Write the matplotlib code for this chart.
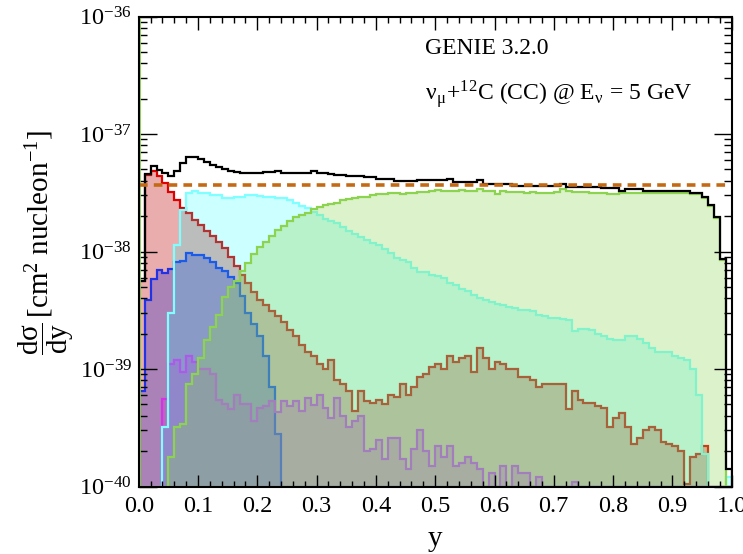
import numpy as np
import matplotlib.pyplot as plt
from matplotlib.ticker import (LogLocator, MultipleLocator, FixedLocator,
                               FormatStrFormatter, NullFormatter, LogFormatterMathtext)

plt.rcParams['font.family'] = ['Liberation Serif', 'DejaVu Serif']
plt.rcParams['mathtext.fontset'] = 'stix'

# 100 bins in y from 0 to 1, cross sections in units of 1e-38 cm^2/nucleon
edges = np.linspace(0.0, 1.0, 101)
unit = 1e-38

total = np.array([
    0.56, 4.57, 5.34, 4.94, 4.66, 4.39, 4.84, 5.66, 6.37, 6.37,
    6.13, 5.78, 5.45, 5.24, 5.04, 4.84, 4.75, 4.66, 4.66, 4.66,
    4.66, 4.75, 4.75, 4.84, 4.66, 4.66, 4.66, 4.66, 4.66, 4.84,
    4.66, 4.66, 4.57, 4.48, 4.48, 4.39, 4.39, 4.39, 4.31, 4.31,
    4.14, 4.14, 4.14, 3.98, 3.98, 3.98, 3.98, 4.06, 4.06, 4.06,
    4.06, 4.06, 4.14, 3.90, 3.90, 3.90, 3.90, 4.06, 3.75, 3.75,
    3.75, 3.75, 3.75, 3.61, 3.61, 3.61, 3.61, 3.61, 3.61, 3.61,
    3.61, 3.75, 3.54, 3.54, 3.54, 3.54, 3.54, 3.54, 3.47, 3.47,
    3.47, 3.27, 3.40, 3.40, 3.40, 3.27, 3.27, 3.27, 3.27, 3.27,
    3.27, 3.27, 3.27, 3.15, 3.15, 2.90, 2.50, 1.97, 0.86, 0.014]) * unit

red = np.array([
    0.56, 4.48, 4.84, 4.39, 3.83, 3.21, 2.74, 2.35, 2.13, 1.86,
    1.68, 1.49, 1.35, 1.20, 1.07, 0.89, 0.75, 0.63, 0.54, 0.45,
    0.385, 0.35, 0.31, 0.285, 0.25, 0.215, 0.19, 0.16, 0.14, 0.13,
    0.11, 0.10, 0.12, 0.08, 0.075, 0.065, 0.044, 0.065, 0.053, 0.051,
    0.055, 0.05, 0.06, 0.058, 0.075, 0.06, 0.07, 0.085, 0.09, 0.105,
    0.11, 0.10, 0.13, 0.115, 0.125, 0.13, 0.095, 0.15, 0.125, 0.10,
    0.115, 0.11, 0.10, 0.10, 0.085, 0.085, 0.08, 0.07, 0.075, 0.075,
    0.075, 0.075, 0.046, 0.065, 0.055, 0.051, 0.051, 0.048, 0.047, 0.032,
    0.038, 0.042, 0.032, 0.023, 0.026, 0.03, 0.032, 0.03, 0.024, 0.023,
    0.022, 0.02, 0.0105, 0.018, 0.019, 0.022, 0, 0, 0, 0]) * unit

blue = np.array([
    0.065, 0.385, 0.58, 0.70, 0.66, 0.71, 0.81, 0.83, 0.97, 0.93,
    0.93, 0.88, 0.81, 0.72, 0.68, 0.61, 0.54, 0.42, 0.30, 0.24,
    0.19, 0.13, 0.07, 0.028] + [0] * 76) * unit

magenta = np.array([
    0, 0, 0, 0, 0.056, 0.11, 0.12, 0.095, 0.13, 0.115,
    0.10, 0.10, 0.09, 0.055, 0.05, 0.046, 0.06, 0.05, 0.05, 0.036,
    0.047, 0.048, 0.053, 0.043, 0.053, 0.048, 0.053, 0.044, 0.057, 0.049,
    0.06, 0.047, 0.038, 0.057, 0.04, 0.032, 0.036, 0.04, 0.02, 0.021,
    0.025, 0.017, 0.026, 0.026, 0.017, 0.014, 0.021, 0.03, 0.02, 0.015,
    0.022, 0.018, 0.022, 0.015, 0.016, 0.018, 0.016, 0.014, 0, 0.013,
    0, 0.015, 0, 0.015, 0.013, 0.013, 0, 0.012, 0, 0,
    0, 0, 0, 0.011] + [0] * 26) * unit

cyan = np.array([
    0, 0, 0, 0, 0.032, 0.30, 1.13, 2.26, 3.15, 3.27,
    3.15, 3.15, 3.03, 3.03, 2.85, 2.85, 2.91, 2.91, 3.03, 3.03,
    2.97, 2.91, 2.91, 2.85, 2.85, 2.74, 2.59, 2.44, 2.35, 2.17,
    2.05, 1.89, 1.82, 1.75, 1.62, 1.49, 1.41, 1.32, 1.25, 1.18,
    1.13, 1.05, 0.97, 0.88, 0.84, 0.81, 0.73, 0.67, 0.67, 0.63,
    0.62, 0.60, 0.54, 0.52, 0.48, 0.46, 0.43, 0.40, 0.39, 0.37,
    0.36, 0.35, 0.335, 0.33, 0.32, 0.32, 0.31, 0.29, 0.285, 0.27,
    0.27, 0.265, 0.26, 0.21, 0.22, 0.22, 0.215, 0.20, 0.19, 0.18,
    0.175, 0.175, 0.19, 0.19, 0.18, 0.165, 0.15, 0.14, 0.14, 0.14,
    0.13, 0.125, 0.12, 0.10, 0.06, 0.019, 0, 0, 0, 0.012]) * unit

green = np.array([
    0, 0, 0, 0, 0, 0.018, 0.032, 0.034, 0.075, 0.09,
    0.125, 0.175, 0.23, 0.29, 0.41, 0.50, 0.56, 0.68, 0.80, 0.95,
    1.09, 1.20, 1.35, 1.52, 1.65, 1.82, 1.97, 2.05, 2.13, 2.30,
    2.39, 2.49, 2.54, 2.59, 2.74, 2.80, 2.85, 2.91, 2.91, 3.03,
    3.09, 3.09, 3.15, 3.15, 3.09, 3.15, 3.15, 3.21, 3.21, 3.27,
    3.34, 3.27, 3.27, 3.27, 3.34, 3.27, 3.27, 3.40, 3.27, 3.27,
    3.09, 3.27, 3.21, 3.21, 3.21, 3.15, 3.21, 3.15, 3.15, 3.15,
    3.21, 3.40, 3.27, 3.21, 3.21, 3.21, 3.15, 3.15, 3.15, 3.09,
    3.09, 3.15, 3.15, 3.15, 3.15, 3.15, 3.15, 3.15, 3.15, 3.15,
    3.15, 3.15, 3.15, 3.09, 3.09, 2.85, 2.44, 1.93, 0.84, 0]) * unit

reference_level = 3.65e-38

ymin, ymax = 1e-40, 1e-36
y_decades = [1e-40, 1e-39, 1e-38, 1e-37, 1e-36]


def draw_hist(ax, vals, line_color, fill_color, alpha):
    # empty bins are drawn on the floor of the plot, like ROOT does
    v = np.where(vals > 0, vals, ymin)
    ax.stairs(v, edges, baseline=ymin, fill=True, color=fill_color, alpha=alpha, linewidth=0)
    ax.stairs(v, edges, baseline=ymin, color=line_color, linewidth=1.6)


fig = plt.figure(figsize=(7.43, 5.54), dpi=100)
ax = fig.add_axes([0.1867, 0.1218, 0.7981, 0.8484])
ax.set_yscale('log')

draw_hist(ax, red, '#E00000', '#CC3333', 0.4)
draw_hist(ax, blue, '#2233E6', '#3333CC', 0.35)
draw_hist(ax, magenta, '#D830E8', '#CC33CC', 0.3)
draw_hist(ax, cyan, '#7FFFFF', '#00FFFF', 0.2)
draw_hist(ax, green, '#8CD450', '#8CD450', 0.3)
ax.axvline(edges[0], color='#8CD450', linewidth=2.0)
ax.stairs(total, edges, baseline=ymin, color='black', linewidth=1.6)
ax.hlines(reference_level, edges[0], edges[-1], colors='#C46A14',
          linewidth=2.6, linestyles=(0, (2.4, 1.7)))

ax.set_xlim(0, 1)
ax.set_ylim(ymin, ymax)

ax.xaxis.set_major_locator(MultipleLocator(0.1))
ax.xaxis.set_minor_locator(MultipleLocator(0.02))
ax.xaxis.set_major_formatter(FormatStrFormatter('%.1f'))
ax.yaxis.set_major_locator(FixedLocator(y_decades))
ax.yaxis.set_major_formatter(LogFormatterMathtext())
ax.yaxis.set_minor_locator(LogLocator(base=10, subs=np.arange(2, 10), numticks=20))
ax.yaxis.set_minor_formatter(NullFormatter())

ax.tick_params(which='both', direction='in', top=True, right=True, width=1.0)
ax.tick_params(axis='x', which='major', length=9, labelsize=17.5, pad=7)
ax.tick_params(axis='x', which='minor', length=4.5)
ax.tick_params(axis='y', which='major', length=13, labelsize=17.5, pad=5)
ax.tick_params(axis='y', which='minor', length=6)
for s in ax.spines.values():
    s.set_linewidth(1.5)

ax.set_xlabel('y', fontsize=21)
ax.xaxis.set_label_coords(0.5, -0.085)
ax.set_ylabel(r'$\dfrac{\mathregular{d\sigma}}{\mathregular{dy}}$'
              r'$\,\mathregular{[cm^{2}\ nucleon^{-1}]}$', fontsize=21)
ax.yaxis.set_label_coords(-0.105, 0.52)

ax.text(0.483, 0.933, 'GENIE 3.2.0', transform=ax.transAxes, fontsize=17, va='center')
ax.text(0.483, 0.833, r'ν$_{\mathregular{μ}}$+$^{\mathregular{12}}$C (CC) @ E$_{\mathregular{ν}}$ = 5 GeV',
        transform=ax.transAxes, fontsize=17, va='center')

fig.savefig('out.png', dpi=100)
